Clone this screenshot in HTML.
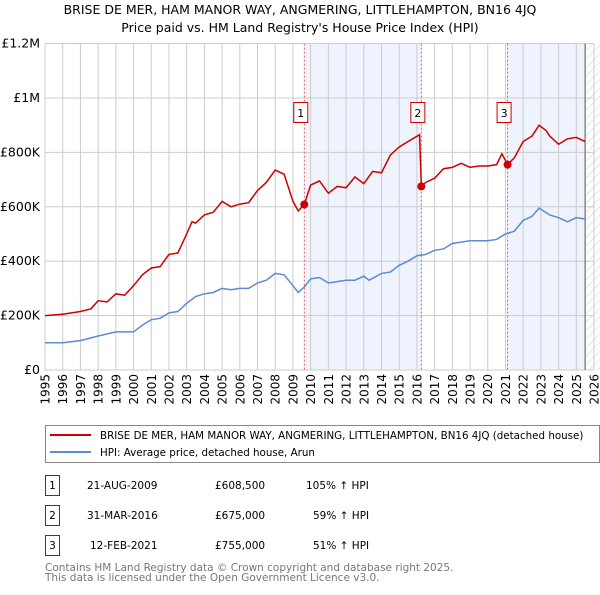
<!DOCTYPE html>
<html><head><meta charset="utf-8"><style>
body{margin:0;background:#fff;font-family:"Liberation Sans","DejaVu Sans",sans-serif;}
svg text{font-family:"DejaVu Sans","Liberation Sans",sans-serif;}
</style></head><body>
<svg id="c" width="600" height="590">
<defs><pattern id="hatch" width="6" height="6" patternUnits="userSpaceOnUse" patternTransform="rotate(45)"><line x1="0" y1="0" x2="0" y2="6" stroke="#ccc" stroke-width="1"/></pattern></defs>
<text x="300" y="14" text-anchor="middle" font-size="12.5">BRISE DE MER, HAM MANOR WAY, ANGMERING, LITTLEHAMPTON, BN16 4JQ</text>
<text x="300" y="32" text-anchor="middle" font-size="12.5">Price paid vs. HM Land Registry's House Price Index (HPI)</text>
<g id="plot"></g>
<rect x="45.5" y="425.5" width="554" height="37" fill="#fff" stroke="#888"/>
<line x1="50" y1="435" x2="91" y2="435" stroke="#cc0000" stroke-width="2"/>
<text x="100" y="439" font-size="10.3">BRISE DE MER, HAM MANOR WAY, ANGMERING, LITTLEHAMPTON, BN16 4JQ (detached house)</text>
<line x1="50" y1="452" x2="91" y2="452" stroke="#5b8bd0" stroke-width="2"/>
<text x="100" y="456" font-size="10.3">HPI: Average price, detached house, Arun</text>
<g font-size="10.5">
<rect x="45.5" y="475.5" width="14" height="20" fill="#fff" stroke="#cc0000"/><text x="52.5" y="489" text-anchor="middle">1</text>
<text x="87" y="489">21-AUG-2009</text><text x="215" y="489">£608,500</text><text x="306" y="489">105% ↑ HPI</text>
<rect x="45.5" y="505.5" width="14" height="20" fill="#fff" stroke="#cc0000"/><text x="52.5" y="519" text-anchor="middle">2</text>
<text x="87" y="519">31-MAR-2016</text><text x="215" y="519">£675,000</text><text x="313" y="519">59% ↑ HPI</text>
<rect x="45.5" y="535.5" width="14" height="20" fill="#fff" stroke="#cc0000"/><text x="52.5" y="549" text-anchor="middle">3</text>
<text x="90" y="549">12-FEB-2021</text><text x="215" y="549">£755,000</text><text x="313" y="549">51% ↑ HPI</text>
</g>
<text x="45" y="571" font-size="10.5" fill="#777">Contains HM Land Registry data © Crown copyright and database right 2025.</text>
<text x="45" y="581" font-size="10.5" fill="#777">This data is licensed under the Open Government Licence v3.0.</text>
</svg>
<script>
const redYears=[1995,1996,1997,1997.6,1998,1998.5,1999,1999.5,2000,2000.5,2001,2001.5,2002,2002.5,2003,2003.3,2003.5,2004,2004.5,2005,2005.5,2006,2006.5,2007,2007.5,2008,2008.5,2009,2009.3,2009.64,2010,2010.5,2011,2011.5,2012,2012.5,2013,2013.5,2014,2014.5,2015,2015.5,2016.15,2016.25,2016.5,2017,2017.5,2018,2018.5,2019,2019.5,2020,2020.5,2020.8,2021.12,2021.5,2022,2022.5,2022.9,2023.3,2023.5,2024,2024.5,2025,2025.5];
const redValues=[200,205,215,225,255,250,280,275,310,350,375,380,425,430,500,545,540,570,580,620,600,610,615,660,690,735,720,620,585,608,680,695,650,675,670,710,685,730,725,790,820,840,865,675,690,705,740,745,760,745,750,750,755,795,755,780,840,860,900,880,860,830,850,855,840];
const hpiYears=[1995,1996,1997,1998,1999,2000,2000.5,2001,2001.5,2002,2002.5,2003,2003.5,2004,2004.5,2005,2005.5,2006,2006.5,2007,2007.5,2008,2008.5,2009,2009.3,2009.64,2010,2010.5,2011,2011.5,2012,2012.5,2013,2013.3,2014,2014.5,2015,2015.5,2016,2016.5,2017,2017.5,2018,2018.5,2019,2019.5,2020,2020.5,2021,2021.5,2022,2022.5,2022.9,2023.5,2024,2024.5,2025,2025.5];
const hpiValues=[100,100,108,125,140,140,165,185,190,210,215,245,270,280,285,300,295,300,300,320,330,355,350,310,285,305,335,340,320,325,330,330,345,330,355,360,385,400,420,425,440,445,465,470,475,475,475,480,500,510,550,565,595,570,560,545,560,555];
const saleYears=[2009.64,2016.25,2021.12];
const saleValues=[608.5,675,755];
const saleLabels=["1","2","3"];
const yTicks=[0,200,400,600,800,1000,1200];
const yTickLabels=["£0","£200K","£400K","£600K","£800K","£1M","£1.2M"];
const xTicks=[1995,1996,1997,1998,1999,2000,2001,2002,2003,2004,2005,2006,2007,2008,2009,2010,2011,2012,2013,2014,2015,2016,2017,2018,2019,2020,2021,2022,2023,2024,2025,2026];
const L=45,R=594,T=43.6,B=370;
const X=y=>L+(y-1995)*(R-L)/31;
const Y=v=>B-v*(B-T)/1200;
const g=document.getElementById('plot');
const NS="http://www.w3.org/2000/svg";
function mk(t,a,p){const e=document.createElementNS(NS,t);for(const k in a)e.setAttribute(k,a[k]);(p||g).appendChild(e);return e;}
let e;
e=mk('rect',{x:X(saleYears[0]),y:T,width:X(saleYears[1])-X(saleYears[0]),height:B-T,fill:'#eef3fd'});


e=mk('rect',{x:X(saleYears[2]),y:T,width:X(2025.5)-X(saleYears[2]),height:B-T,fill:'#eef3fd'});


e=mk('rect',{x:X(2025.5),y:T,width:R+6-X(2025.5),height:B-T,fill:'url(#hatch)'});


xTicks.forEach(t=>{
 e=mk('line',{x1:X(t),x2:X(t),y1:T,y2:B,stroke:'#ccc'});
 
 
 e=mk('text',{x:0,y:0,'text-anchor':'end','font-size':'12',transform:'translate('+(X(t)+4.5)+',374) rotate(-90)'});e.textContent=t;
 
 
});
yTicks.forEach((t,i)=>{
 e=mk('line',{x1:L,x2:R,y1:Y(t),y2:Y(t),stroke:'#ccc'});
 
 
 e=mk('text',{x:40,y:Y(t)+4,'text-anchor':'end','font-size':'12.5'});e.textContent=yTickLabels[i];
 
 
});
e=mk('line',{x1:X(2025.5),x2:X(2025.5),y1:T,y2:B,stroke:'#888','stroke-width':1.5});


saleYears.forEach((s,i)=>{
 e=mk('line',{x1:X(s),x2:X(s),y1:T,y2:B,stroke:'#e33','stroke-dasharray':'2,2','stroke-width':0.8});
 
 
});
e=mk('polyline',{points:hpiYears.map((y,i)=>X(y)+','+Y(hpiValues[i])).join(' '),fill:'none',stroke:'#5b8bd0','stroke-width':1.5});


e=mk('polyline',{points:redYears.map((y,i)=>X(y)+','+Y(redValues[i])).join(' '),fill:'none',stroke:'#cc0000','stroke-width':1.5});


saleYears.forEach((s,i)=>{
 e=mk('circle',{cx:X(s),cy:Y(saleValues[i]),r:4,fill:'#cc0000'});
 
 
 e=mk('rect',{x:X(s)-10.5,y:102.5,width:14,height:20,fill:'#fff',stroke:'#cc0000'});
 
 
 e=mk('text',{x:X(s)-3.5,y:117,'text-anchor':'middle','font-size':'11'});e.textContent=saleLabels[i];
 
 
});
</script>
</body></html>
